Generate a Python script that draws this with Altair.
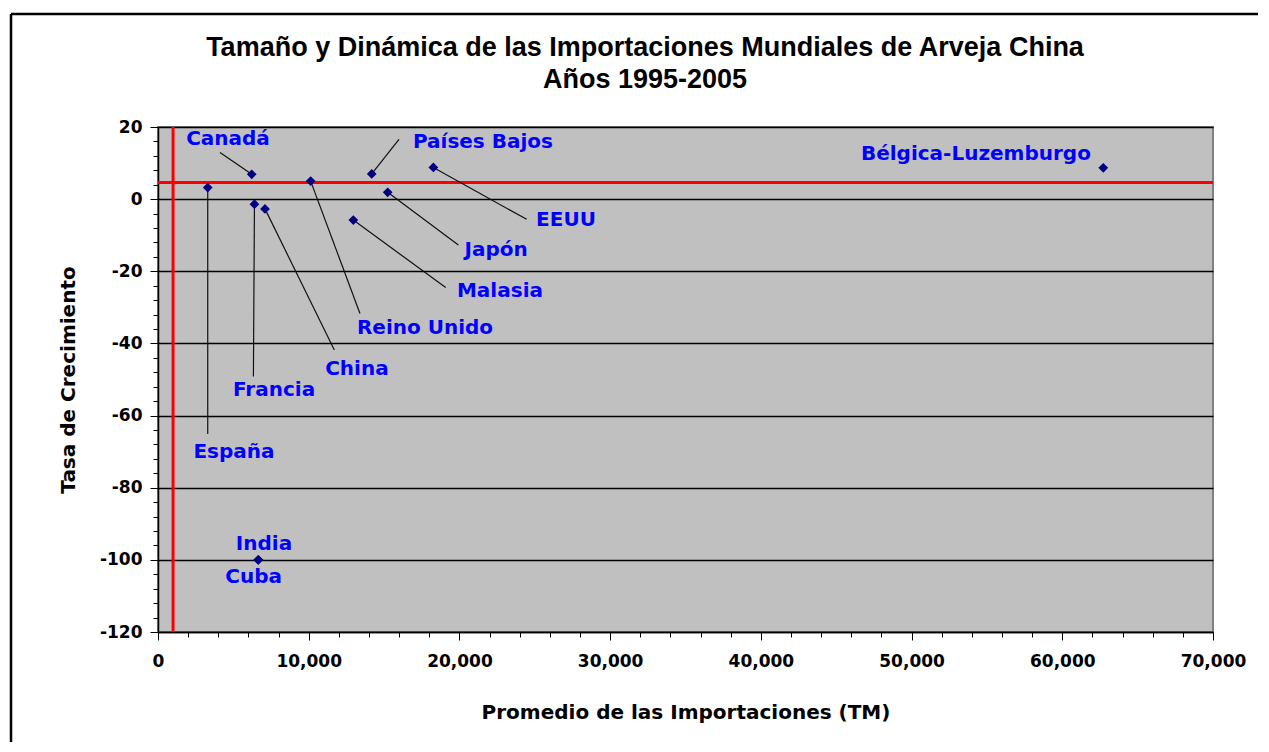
import altair as alt
import pandas as pd

# ---- data ----
countries = ["España", "Canadá", "Francia", "China", "Reino Unido", "Malasia",
             "Países Bajos", "Japón", "EEUU", "Bélgica-Luzemburgo", "India", "Cuba"]
imports_tm = [3300, 6220, 6400, 7100, 10130, 12960, 14180, 15240, 18270, 62720, 6655, 6655]
growth_rate = [3.2, 6.9, -1.4, -2.7, 5.0, -5.8, 7.0, 1.9, 8.8, 8.7, -100, -100]

# label anchor positions (data units)
label_x = [5040, 4645, 7700, 13200, 17715, 22690, 21560, 22430, 27070, 54270, 7030, 6350]
label_y = [-70.1, 16.7, -52.9, -47.1, -35.7, -25.5, 15.8, -14.1, -5.8, 12.5, -95.7, -104.8]
# leader line end points (data units), None = no leader line
leader_x = [3300, 4114, 6330, 11700, 13400, 19090, 15990, 19930, 24460, None, None, None]
leader_y = [-65.1, 12.9, -49.2, -41.8, -31.7, -24.5, 16.6, -12.7, -5.6, None, None, None]

ref_imports = [1000]
ref_growth = [4.6]

title_lines = ["Tamaño y Dinámica de las Importaciones Mundiales de Arveja China",
               "Años 1995-2005"]

x_ticks = list(range(0, 70001, 2000))
y_ticks = list(range(-120, 21, 4))

W, H = 1055, 505

df = pd.DataFrame({"pais": countries, "imp": imports_tm, "tasa": growth_rate,
                   "lx": label_x, "ly": label_y, "ex": leader_x, "ey": leader_y})
df_lead = df.dropna(subset=["ex"])

xscale = alt.Scale(domain=[0, 70000], nice=False, zero=False)
yscale = alt.Scale(domain=[-120, 20], nice=False, zero=False)

tick_font = "DejaVu Sans"
x_axis = alt.Axis(
    values=x_ticks, tickCount=len(x_ticks),
    labelExpr="datum.value % 10000 === 0 ? format(datum.value, ',') : ''",
    tickSize={"condition": {"test": "datum.value % 10000 === 0", "value": 8}, "value": 5},
    grid=False, domainColor="black", tickColor="black", domainWidth=1.5,
    labelFont=tick_font, labelFontSize=17, labelFontWeight="bold", labelColor="black",
    labelOverlap=False, labelFlush=False, labelBound=False, labelPadding=13,
    title="Promedio de las Importaciones (TM)", titleFont=tick_font, titleFontSize=20,
    titleFontWeight="bold", titleColor="black", titleBaseline="middle", titleY=80,
)
y_axis = alt.Axis(
    values=y_ticks, tickCount=len(y_ticks),
    labelExpr="datum.value % 20 === 0 ? '' + datum.value : ''",
    tickSize={"condition": {"test": "datum.value % 20 === 0", "value": 8}, "value": 5},
    grid=True, gridColor="black", gridWidth=1.5,
    gridOpacity={"condition": {"test": "datum.value % 20 === 0", "value": 1}, "value": 0},
    domainColor="black", tickColor="black", domainWidth=1.5,
    labelFont=tick_font, labelFontSize=17, labelFontWeight="bold", labelColor="black",
    labelOverlap=False, labelPadding=8, labelBound=False, labelFlush=False,
    title="Tasa de Crecimiento", titleFont=tick_font, titleFontSize=20,
    titleFontWeight="bold", titleColor="black", titleBaseline="middle", titleX=-90,
)

base = alt.Chart(df)

axes_layer = base.mark_point(opacity=0).encode(
    x=alt.X("imp:Q", scale=xscale, axis=x_axis),
    y=alt.Y("tasa:Q", scale=yscale, axis=y_axis),
)

vref = alt.Chart(pd.DataFrame({"v": ref_imports})).mark_rule(
    color="#FF0000", strokeWidth=3).encode(x=alt.X("v:Q", scale=xscale))
href = alt.Chart(pd.DataFrame({"h": ref_growth})).mark_rule(
    color="#FF0000", strokeWidth=3).encode(y=alt.Y("h:Q", scale=yscale))

leaders = alt.Chart(df_lead).mark_rule(color="#111111", strokeWidth=1.2).encode(
    x=alt.X("imp:Q", scale=xscale), y=alt.Y("tasa:Q", scale=yscale),
    x2="ex:Q", y2="ey:Q")

points = base.mark_point(shape="diamond", filled=True, color="#000080",
                         size=95, opacity=1).encode(
    x=alt.X("imp:Q", scale=xscale), y=alt.Y("tasa:Q", scale=yscale))

labels = base.mark_text(color="#0000FF", font="DejaVu Sans", fontSize=20,
                        fontWeight="bold", align="center", baseline="middle").encode(
    x=alt.X("lx:Q", scale=xscale), y=alt.Y("ly:Q", scale=yscale), text="pais:N")

# figure title (drawn as text above the plot)
title_font = "Liberation Sans"
title1 = alt.Chart(pd.DataFrame({"t": [title_lines[0]]})).mark_text(
    font=title_font, fontSize=27, fontWeight="bold", color="black",
    align="center", baseline="alphabetic").encode(
    x=alt.value(487), y=alt.value(-71), text="t:N")
title2 = alt.Chart(pd.DataFrame({"t": [title_lines[1]]})).mark_text(
    font=title_font, fontSize=27, fontWeight="bold", color="black",
    align="center", baseline="alphabetic").encode(
    x=alt.value(487), y=alt.value(-39), text="t:N")

# outer frame of the figure
frame_v = alt.Chart(pd.DataFrame({"a": [0]})).mark_rule(color="black", strokeWidth=2.5).encode(
    x=alt.value(-147), y=alt.value(-113), y2=alt.value(H + 130))
frame_h = alt.Chart(pd.DataFrame({"a": [0]})).mark_rule(color="black", strokeWidth=2.5).encode(
    x=alt.value(-147), x2=alt.value(W + 120), y=alt.value(-113))

chart = alt.layer(axes_layer, vref, href, leaders, points, labels,
                  title1, title2, frame_v, frame_h).properties(
    width=W, height=H,
    background="white",
    autosize=alt.AutoSizeParams(type="none"),
    padding={"left": 150, "top": 119, "right": 45, "bottom": 110},
).configure_view(
    fill="#C0C0C0", stroke="#808080", strokeWidth=2
)

chart.save("out.html", embed_options={"renderer": "svg", "actions": False})
